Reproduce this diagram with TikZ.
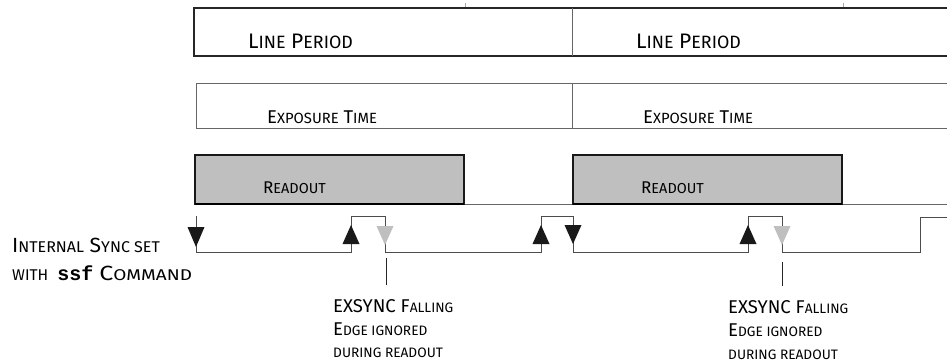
\documentclass[tikz,border=0pt]{standalone}
\usepackage{fontspec}
\usepackage{graphicx}
\setmainfont{Fira Sans}
\setmonofont{Liberation Mono}
\newcommand{\Sm}[2][0.8]{\scalebox{#1}{\MakeUppercase{#2}}}
\begin{document}
\begin{tikzpicture}[x=1pt,y=-1pt,
  lbl/.style={inner sep=0pt, anchor=base west, text=black},
  sig/.style={draw=black!70, line width=1pt},
  btri/.style={fill=black!90},
  gtri/.style={fill=black!25},
  frameA/.style={draw=black!85, line width=1.2pt},
  frameB/.style={draw=black!60, line width=1pt},
  rbox/.style={fill=black!25, draw=black!90, line width=1.2pt},
  ptr/.style={draw=black!85, line width=0.9pt}]
\useasboundingbox (0,0) rectangle (947,362);
% small ticks
\draw[black!35, line width=0.6pt] (465,3) -- (465,8) (843,3) -- (843,8);
% Line period row
\draw[frameA] (947,8) -- (194,8) -- (194,56) -- (947,56);
\draw[frameB] (572,8) -- (572,56);
\node[lbl, font=\fontsize{21}{24}\selectfont] (lp1) at (248,48) {L\Sm[0.85]{ine} P\Sm[0.85]{eriod}};
\node[lbl, font=\fontsize{21}{24}\selectfont] (lp2) at (636,48) {L\Sm[0.85]{ine} P\Sm[0.85]{eriod}};
% Exposure row
\draw[frameB] (947,83) -- (196,83) -- (196,128) -- (947,128);
\draw[frameB] (572,83) -- (572,128);
\node[lbl, font=\fontsize{18.5}{21}\selectfont] (ex1) at (267,123) {E\Sm{xposure} T\Sm{ime}};
\node[lbl, font=\fontsize{18.5}{21}\selectfont] (ex2) at (643,123) {E\Sm{xposure} T\Sm{ime}};
% Readout row
\draw[frameB] (464,204) -- (573,204) (842,204) -- (947,204);
\draw[rbox] (195,155) rectangle (464,204);
\draw[rbox] (573,155) rectangle (842,204);
\draw[black, line width=2pt] (195,204) -- (464,204) (573,204) -- (842,204);
\node[lbl, font=\fontsize{17}{20}\selectfont] (ro1) at (263,193) {R\Sm[0.85]{eadout}};
\node[lbl, font=\fontsize{17}{20}\selectfont] (ro2) at (641,193) {R\Sm[0.85]{eadout}};
% Signal
\draw[sig] (196,216) -- (196,252) -- (351,252) -- (351,216) -- (385,216) -- (385,252)
  -- (541,252) -- (541,216) -- (573,216) -- (573,252) -- (748,252) -- (748,216)
  -- (782,216) -- (782,252) -- (920,252) -- (920,217) -- (947,217);
% arrowheads
\fill[btri] (187.5,227) -- (204.5,227) -- (196,247) -- cycle;
\fill[btri] (342.5,244) -- (359.5,244) -- (351,225) -- cycle;
\fill[gtri] (376.5,226) -- (393.5,226) -- (385,245) -- cycle;
\fill[btri] (532.5,244) -- (549.5,244) -- (541,225) -- cycle;
\fill[btri] (564.5,225) -- (581.5,225) -- (573,244) -- cycle;
\fill[btri] (739.5,244) -- (756.5,244) -- (748,225) -- cycle;
\fill[gtri] (773.5,226) -- (790.5,226) -- (782,245) -- cycle;
% left label
\node[lbl, font=\fontsize{20.5}{24}\selectfont] (is1) at (12,252) {\scalebox{1.03}[1]{I\Sm[0.76]{nternal} S\Sm[0.76]{ync set}}};
\node[lbl, font=\fontsize{20.5}{24}\selectfont] (is2) at (12,280) {\Sm[0.76]{with}\hspace{9pt}{\fontsize{20}{22}\selectfont\ttfamily\bfseries ssf}\hspace{6pt}\scalebox{1.22}[1]{C\Sm[0.76]{ommand}}};
% notes
\coordinate (p1) at (386,258);
\coordinate (p1e) at (386,285);
\coordinate (p2) at (782,262);
\coordinate (p2e) at (782,286);
\draw[ptr] (p1) -- (p1e);
\draw[ptr] (p2) -- (p2e);
\node[lbl, font=\fontsize{18.5}{21}\selectfont] (n1a) at (333,312) {EXSYNC F\Sm[0.74]{alling}};
\node[lbl, font=\fontsize{18.5}{21}\selectfont] (n1b) at (333,335) {E\Sm[0.74]{dge ignored}};
\node[lbl, font=\fontsize{18.5}{21}\selectfont] (n1c) at (333,357) {\Sm[0.74]{during readout}};
\node[lbl, font=\fontsize{18.5}{21}\selectfont] (n2a) at (728,313) {EXSYNC F\Sm[0.74]{alling}};
\node[lbl, font=\fontsize{18.5}{21}\selectfont] (n2b) at (728,336) {E\Sm[0.74]{dge ignored}};
\node[lbl, font=\fontsize{18.5}{21}\selectfont] (n2c) at (728,359) {\Sm[0.74]{during readout}};
\end{tikzpicture}
\end{document}
